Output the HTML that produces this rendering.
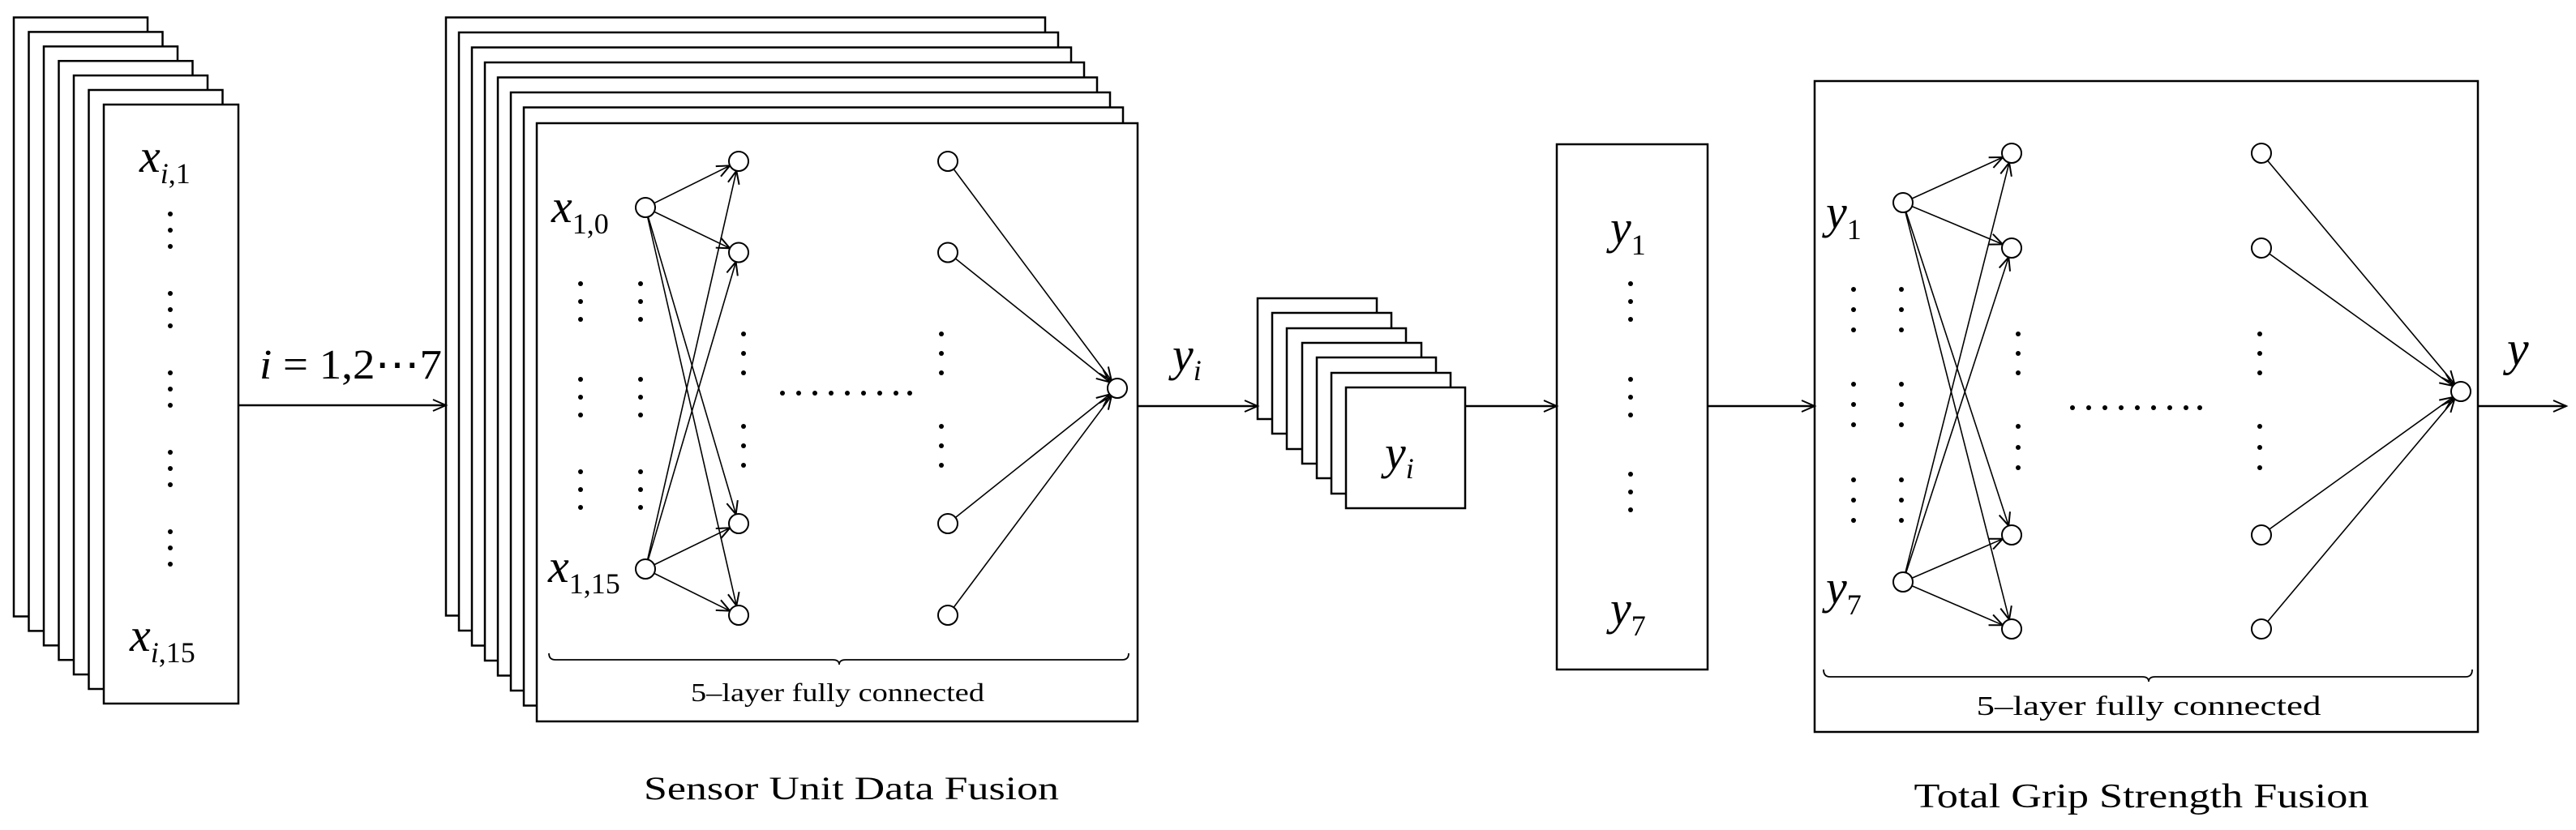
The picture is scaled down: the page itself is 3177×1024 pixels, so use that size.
<!DOCTYPE html>
<html><head><meta charset="utf-8"><style>html,body{margin:0;padding:0;background:#fff}svg{display:block}text{font-family:"Liberation Serif","Times New Roman",serif}</style></head><body>
<svg width="3177" height="1024" viewBox="0 0 3177 1024" xmlns="http://www.w3.org/2000/svg">
<defs>
<marker id="a" markerUnits="userSpaceOnUse" markerWidth="20" markerHeight="20" refX="17" refY="8" orient="auto"><path d="M1,1 L17,8 L1,15" fill="none" stroke="#000" stroke-width="2"/></marker>
</defs>
<g fill="#fff" stroke="#000" stroke-width="2.5">
<rect x="17" y="21.5" width="165" height="739"/>
<rect x="35.5" y="39.4" width="165" height="739"/>
<rect x="54" y="57.3" width="165" height="739"/>
<rect x="72.5" y="75.2" width="165" height="739"/>
<rect x="91" y="93.1" width="165" height="739"/>
<rect x="109.5" y="111" width="165" height="739"/>
<rect x="128" y="129" width="166" height="739"/>

<rect x="550" y="21.5" width="739" height="738"/>
<rect x="566" y="40" width="739" height="738"/>
<rect x="582" y="58.5" width="739" height="738"/>
<rect x="598" y="77" width="739" height="738"/>
<rect x="614" y="95.5" width="739" height="738"/>
<rect x="630" y="114" width="739" height="738"/>
<rect x="646" y="132.5" width="739" height="738"/>
<rect x="662" y="152" width="741" height="738"/>

<rect x="1551" y="368" width="147" height="149"/>
<rect x="1569" y="386" width="147" height="149"/>
<rect x="1587" y="405" width="147" height="149"/>
<rect x="1606" y="423" width="147" height="149"/>
<rect x="1624" y="441" width="147" height="149"/>
<rect x="1642" y="460" width="147" height="149"/>
<rect x="1660" y="478" width="147" height="149"/>

<rect x="1920" y="178" width="186" height="648"/>
<rect x="2238" y="100" width="818" height="803"/>
</g>

<g stroke="#000" stroke-width="2.5" fill="none" marker-end="url(#a)">
<line x1="294" y1="500" x2="550" y2="500"/>
<line x1="1403" y1="501" x2="1551" y2="501"/>
<line x1="1807" y1="501" x2="1920" y2="501"/>
<line x1="2106" y1="501" x2="2238" y2="501"/>
<line x1="3056" y1="501" x2="3165" y2="501"/>
</g>

<g stroke="#000" stroke-width="1.6" fill="none" marker-end="url(#a)">
<line x1="796" y1="256" x2="900.2" y2="204.3"/>
<line x1="796" y1="256" x2="900.2" y2="306.3"/>
<line x1="796" y1="256" x2="907.6" y2="634.5"/>
<line x1="796" y1="256" x2="908.3" y2="747.3"/>
<line x1="796" y1="702" x2="908.3" y2="210.7"/>
<line x1="796" y1="702" x2="907.6" y2="323"/>
<line x1="796" y1="702" x2="900.2" y2="651.3"/>
<line x1="796" y1="702" x2="900.2" y2="753.7"/>
<line x1="1169" y1="199" x2="1370.8" y2="469.4"/>
<line x1="1169" y1="311.5" x2="1368.6" y2="471.5"/>
<line x1="1169" y1="646" x2="1368.6" y2="486.5"/>
<line x1="1169" y1="759" x2="1370.8" y2="488.6"/>

<line x1="2347" y1="250" x2="2470.1" y2="194"/>
<line x1="2347" y1="250" x2="2469.9" y2="301.4"/>
<line x1="2347" y1="250" x2="2477.3" y2="648.6"/>
<line x1="2347" y1="250" x2="2478" y2="764.4"/>
<line x1="2347" y1="718" x2="2478" y2="200.6"/>
<line x1="2347" y1="718" x2="2477.3" y2="317.4"/>
<line x1="2347" y1="718" x2="2470" y2="664.8"/>
<line x1="2347" y1="718" x2="2470" y2="771.2"/>
<line x1="2789" y1="189" x2="3027.3" y2="473.8"/>
<line x1="2789" y1="306" x2="3025.3" y2="476"/>
<line x1="2789" y1="660" x2="3025.3" y2="490"/>
<line x1="2789" y1="776" x2="3027.3" y2="492.2"/>
</g>

<g fill="#fff" stroke="#000" stroke-width="2">
<circle cx="796" cy="256" r="12"/><circle cx="796" cy="702" r="12"/>
<circle cx="911" cy="199" r="12"/><circle cx="911" cy="311.5" r="12"/><circle cx="911" cy="646" r="12"/><circle cx="911" cy="759" r="12"/>
<circle cx="1169" cy="199" r="12"/><circle cx="1169" cy="311.5" r="12"/><circle cx="1169" cy="646" r="12"/><circle cx="1169" cy="759" r="12"/>
<circle cx="1378" cy="479" r="12"/>
<circle cx="2347" cy="250" r="12"/><circle cx="2347" cy="718" r="12"/>
<circle cx="2481" cy="189" r="12"/><circle cx="2481" cy="306" r="12"/><circle cx="2481" cy="660" r="12"/><circle cx="2481" cy="776" r="12"/>
<circle cx="2789" cy="189" r="12"/><circle cx="2789" cy="306" r="12"/><circle cx="2789" cy="660" r="12"/><circle cx="2789" cy="776" r="12"/>
<circle cx="3035" cy="483" r="12"/>
</g>

<g fill="#000">
<circle cx="210" cy="264" r="3"/><circle cx="210" cy="284" r="3"/><circle cx="210" cy="304" r="3"/>
<circle cx="210" cy="362" r="3"/><circle cx="210" cy="382" r="3"/><circle cx="210" cy="402" r="3"/>
<circle cx="210" cy="460" r="3"/><circle cx="210" cy="480" r="3"/><circle cx="210" cy="500" r="3"/>
<circle cx="210" cy="558" r="3"/><circle cx="210" cy="578" r="3"/><circle cx="210" cy="598" r="3"/>
<circle cx="210" cy="656" r="3"/><circle cx="210" cy="676" r="3"/><circle cx="210" cy="696" r="3"/>
<circle cx="716" cy="350" r="3"/><circle cx="716" cy="372" r="3"/><circle cx="716" cy="394" r="3"/>
<circle cx="716" cy="468" r="3"/><circle cx="716" cy="490" r="3"/><circle cx="716" cy="512" r="3"/>
<circle cx="716" cy="582" r="3"/><circle cx="716" cy="604" r="3"/><circle cx="716" cy="626" r="3"/>
<circle cx="790" cy="350" r="3"/><circle cx="790" cy="372" r="3"/><circle cx="790" cy="394" r="3"/>
<circle cx="790" cy="468" r="3"/><circle cx="790" cy="490" r="3"/><circle cx="790" cy="512" r="3"/>
<circle cx="790" cy="582" r="3"/><circle cx="790" cy="604" r="3"/><circle cx="790" cy="626" r="3"/>
<circle cx="917" cy="412" r="3"/><circle cx="917" cy="436" r="3"/><circle cx="917" cy="460" r="3"/>
<circle cx="917" cy="526" r="3"/><circle cx="917" cy="550" r="3"/><circle cx="917" cy="574" r="3"/>
<circle cx="1161" cy="412" r="3"/><circle cx="1161" cy="436" r="3"/><circle cx="1161" cy="460" r="3"/>
<circle cx="1161" cy="526" r="3"/><circle cx="1161" cy="550" r="3"/><circle cx="1161" cy="574" r="3"/>
<circle cx="965" cy="485" r="3"/><circle cx="985" cy="485" r="3"/><circle cx="1005" cy="485" r="3"/><circle cx="1025" cy="485" r="3"/><circle cx="1045" cy="485" r="3"/><circle cx="1065" cy="485" r="3"/><circle cx="1085" cy="485" r="3"/><circle cx="1105" cy="485" r="3"/><circle cx="1122" cy="485" r="3"/>
<circle cx="2011" cy="350" r="3"/><circle cx="2011" cy="372" r="3"/><circle cx="2011" cy="394" r="3"/>
<circle cx="2011" cy="468" r="3"/><circle cx="2011" cy="490" r="3"/><circle cx="2011" cy="512" r="3"/>
<circle cx="2011" cy="585" r="3"/><circle cx="2011" cy="607" r="3"/><circle cx="2011" cy="629" r="3"/>
<circle cx="2286" cy="357" r="3"/><circle cx="2286" cy="382" r="3"/><circle cx="2286" cy="407" r="3"/>
<circle cx="2286" cy="474" r="3"/><circle cx="2286" cy="499" r="3"/><circle cx="2286" cy="524" r="3"/>
<circle cx="2286" cy="592" r="3"/><circle cx="2286" cy="617" r="3"/><circle cx="2286" cy="642" r="3"/>
<circle cx="2345" cy="357" r="3"/><circle cx="2345" cy="382" r="3"/><circle cx="2345" cy="407" r="3"/>
<circle cx="2345" cy="474" r="3"/><circle cx="2345" cy="499" r="3"/><circle cx="2345" cy="524" r="3"/>
<circle cx="2345" cy="592" r="3"/><circle cx="2345" cy="617" r="3"/><circle cx="2345" cy="642" r="3"/>
<circle cx="2489" cy="412" r="3"/><circle cx="2489" cy="436" r="3"/><circle cx="2489" cy="460" r="3"/>
<circle cx="2489" cy="526" r="3"/><circle cx="2489" cy="552" r="3"/><circle cx="2489" cy="577" r="3"/>
<circle cx="2787" cy="412" r="3"/><circle cx="2787" cy="436" r="3"/><circle cx="2787" cy="460" r="3"/>
<circle cx="2787" cy="526" r="3"/><circle cx="2787" cy="552" r="3"/><circle cx="2787" cy="577" r="3"/>
<circle cx="2556" cy="503" r="3"/><circle cx="2576" cy="503" r="3"/><circle cx="2596" cy="503" r="3"/><circle cx="2616" cy="503" r="3"/><circle cx="2636" cy="503" r="3"/><circle cx="2656" cy="503" r="3"/><circle cx="2676" cy="503" r="3"/><circle cx="2696" cy="503" r="3"/><circle cx="2713" cy="503" r="3"/>
</g>

<g fill="none" stroke="#000" stroke-width="1.8">
<path d="M677,806 Q677,814 685,814 L1027,814 Q1035,814 1035,820 Q1035,814 1043,814 L1384,814 Q1392,814 1392,806"/>
<path d="M2249,826 Q2249,835 2257,835 L2642,835 Q2650,835 2650,841 Q2650,835 2658,835 L3041,835 Q3049,835 3049,826"/>
</g>

<g fill="#000">
<text x="172" y="212" font-size="58" font-style="italic">x<tspan font-size="36" dy="14">i</tspan><tspan font-size="36" font-style="normal">,1</tspan></text>
<text x="160" y="803" font-size="58" font-style="italic">x<tspan font-size="36" dy="14">i</tspan><tspan font-size="36" font-style="normal">,15</tspan></text>
<text x="320" y="467" font-size="52" textLength="225" lengthAdjust="spacingAndGlyphs"><tspan font-style="italic">i</tspan> = 1,2⋯7</text>
<text x="680" y="274" font-size="58" font-style="italic">x<tspan font-size="36" font-style="normal" dy="14">1,0</tspan></text>
<text x="676" y="718" font-size="58" font-style="italic">x<tspan font-size="36" font-style="normal" dy="14">1,15</tspan></text>
<text x="1033" y="865" font-size="32" text-anchor="middle" textLength="362" lengthAdjust="spacingAndGlyphs">5–layer fully connected</text>
<text x="1050" y="986" font-size="40" text-anchor="middle" textLength="512" lengthAdjust="spacingAndGlyphs">Sensor Unit Data Fusion</text>
<text x="1446" y="457" font-size="58" font-style="italic">y<tspan font-size="36" dy="12">i</tspan></text>
<text x="1708" y="578" font-size="58" font-style="italic">y<tspan font-size="36" dy="12">i</tspan></text>
<text x="1986" y="300" font-size="58" font-style="italic">y<tspan font-size="36" font-style="normal" dy="14">1</tspan></text>
<text x="1986" y="770" font-size="58" font-style="italic">y<tspan font-size="36" font-style="normal" dy="14">7</tspan></text>
<text x="2252" y="281" font-size="58" font-style="italic">y<tspan font-size="36" font-style="normal" dy="14">1</tspan></text>
<text x="2252" y="744" font-size="58" font-style="italic">y<tspan font-size="36" font-style="normal" dy="14">7</tspan></text>
<text x="2650" y="882" font-size="34" text-anchor="middle" textLength="425" lengthAdjust="spacingAndGlyphs">5–layer fully connected</text>
<text x="2641" y="996" font-size="42" text-anchor="middle" textLength="561" lengthAdjust="spacingAndGlyphs">Total Grip Strength Fusion</text>
<text x="3092" y="450" font-size="60" font-style="italic">y</text>
</g>
</svg>
</body></html>
